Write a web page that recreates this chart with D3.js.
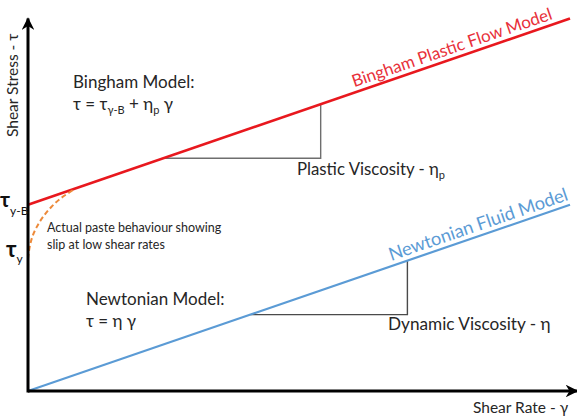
<!DOCTYPE html>
<html>
<head>
<meta charset="utf-8">
<script src="https://cdn.jsdelivr.net/npm/d3@7"></script>
<style>
  body { margin: 0; background: #fff; }
  svg { display: block; font-family: Lato, "Open Sans", sans-serif; }
</style>
</head>
<body>
<svg id="chart" width="577" height="416"></svg>
<script>
// shear rate (x) and shear stress (y), arbitrary units
var shearRate = [0, 100];
var binghamStress = [50, 100];
var newtonianStress = [0, 50];

// slip curve near the yield point
var slipRate = [0, 0.3, 0.8, 1.6, 2.8, 4.3, 6.2, 8.7];
var slipStress = [35.5, 38.6, 41.4, 44.0, 46.8, 49.4, 51.9, 54.3];

// slope triangles (start and end shear rate)
var binghamTriangle = [25, 54];
var newtonianTriangle = [41, 70];

var axisMax = [101.3, 100];

var svgWidth = 577;
var svgHeight = 416;

var xScale = d3.scaleLinear().domain([0, 100]).range([28, 570]);
var yScale = d3.scaleLinear().domain([0, 100]).range([391, 18.5]);

function bingham(g) { return binghamStress[0] + (binghamStress[1] - binghamStress[0]) * g / 100; }
function newtonian(g) { return newtonianStress[0] + (newtonianStress[1] - newtonianStress[0]) * g / 100; }

var svg = d3.select("#chart");
var textColor = "#262626";

var defs = svg.append("defs");
defs.append("marker")
    .attr("id", "arrow")
    .attr("viewBox", "0 0 10 10")
    .attr("refX", 9)
    .attr("refY", 5)
    .attr("markerWidth", 4.2)
    .attr("markerHeight", 4.2)
    .attr("markerUnits", "strokeWidth")
    .attr("orient", "auto")
    .append("path")
    .attr("d", "M0,0 L10,5 L0,10 L3,5 Z")
    .attr("fill", "black");

var line = d3.line()
    .x(d => xScale(d[0]))
    .y(d => yScale(d[1]));

// slope triangles
function triangle(range, f) {
    var g0 = range[0], g1 = range[1];
    return [[g0, f(g0)], [g1, f(g0)], [g1, f(g1)]];
}
svg.append("path")
    .attr("d", line(triangle(binghamTriangle, bingham)))
    .attr("fill", "none")
    .attr("stroke", "#6e6e6e")
    .attr("stroke-width", 1.4);
svg.append("path")
    .attr("d", line(triangle(newtonianTriangle, newtonian)))
    .attr("fill", "none")
    .attr("stroke", "#4a4a4a")
    .attr("stroke-width", 1.4);

// model lines
svg.append("path")
    .attr("d", line(shearRate.map((g, i) => [g, binghamStress[i]])))
    .attr("stroke", "#e8181e")
    .attr("stroke-width", 2.6)
    .attr("fill", "none");

svg.append("path")
    .attr("d", line(shearRate.map((g, i) => [g, newtonianStress[i]])))
    .attr("stroke", "#5b9bd5")
    .attr("stroke-width", 2.2)
    .attr("fill", "none");

// slip curve
svg.append("path")
    .attr("d", line.curve(d3.curveCatmullRom)(slipRate.map((g, i) => [g, slipStress[i]])))
    .attr("stroke", "#ed8a3a")
    .attr("stroke-width", 2)
    .attr("stroke-dasharray", "5,3")
    .attr("fill", "none");
line.curve(d3.curveLinear);

// axes
svg.append("line")
    .attr("x1", xScale(0)).attr("y1", yScale(0))
    .attr("x2", xScale(axisMax[0])).attr("y2", yScale(0))
    .attr("stroke", "black").attr("stroke-width", 3)
    .attr("marker-end", "url(#arrow)");
svg.append("line")
    .attr("x1", xScale(0)).attr("y1", yScale(0) + 1.5)
    .attr("x2", xScale(0)).attr("y2", yScale(axisMax[1]))
    .attr("stroke", "black").attr("stroke-width", 3)
    .attr("marker-end", "url(#arrow)");

// axis titles
svg.append("text")
    .attr("transform", "translate(18,137) rotate(-90)")
    .attr("font-size", 15.5)
    .attr("fill", textColor)
    .text("Shear Stress - τ");

svg.append("text")
    .attr("x", 473)
    .attr("y", 413)
    .attr("font-size", 15.5)
    .attr("fill", textColor)
    .text("Shear Rate - γ");

// labels along lines
function lineLabel(g, f, txt, color, offset, size) {
    var x0 = xScale(g), y0 = yScale(f(g));
    var angle = Math.atan2(yScale(f(g + 10)) - y0, xScale(g + 10) - x0) * 180 / Math.PI;
    svg.append("text")
        .attr("transform", "translate(" + x0 + "," + y0 + ") rotate(" + angle + ") translate(0," + (-offset) + ")")
        .attr("font-size", size)
        .attr("fill", color)
        .text(txt);
}
lineLabel(60.5, bingham, "Bingham Plastic Flow Model", "#e8303a", 5, 17);
lineLabel(67.3, newtonian, "Newtonian Fluid Model", "#5b9bd5", 5, 18.3);

// model text blocks
function block(x, y, size) {
    return svg.append("text")
        .attr("x", x)
        .attr("y", y)
        .attr("font-size", size)
        .attr("fill", textColor);
}

block(73, 88, 17).text("Bingham Model:");
var bf = block(73, 110, 17);
bf.append("tspan").text("τ = τ");
bf.append("tspan").attr("font-size", 11).attr("dy", 4).text("γ-B");
bf.append("tspan").attr("dy", -4).text(" + η");
bf.append("tspan").attr("font-size", 11).attr("dy", 4).text("p");
bf.append("tspan").attr("dy", -4).text(" γ");

block(86, 305, 17).text("Newtonian Model:");
block(86, 327, 17).text("τ = η γ");

var pv = block(297, 175, 16.8);
pv.append("tspan").text("Plastic Viscosity - η");
pv.append("tspan").attr("font-size", 11).attr("dy", 4).text("p");

block(388, 330, 17.2).text("Dynamic Viscosity - η");

block(47, 232, 12.5).text("Actual paste behaviour showing");
block(47, 249, 12.5).text("slip at low shear rates");

// yield stress labels on the stress axis
var ty = block(0, 207, 21).attr("font-weight", "bold").attr("fill", "#111");
ty.append("tspan").text("τ");
ty.append("tspan").attr("font-size", 12).attr("font-weight", "normal").attr("dy", 8).text("y-B");

var t0 = block(6, 257, 22).attr("font-weight", "bold").attr("fill", "#111");
t0.append("tspan").text("τ");
t0.append("tspan").attr("font-size", 12).attr("font-weight", "normal").attr("dy", 6).text("y");
</script>
</body>
</html>
